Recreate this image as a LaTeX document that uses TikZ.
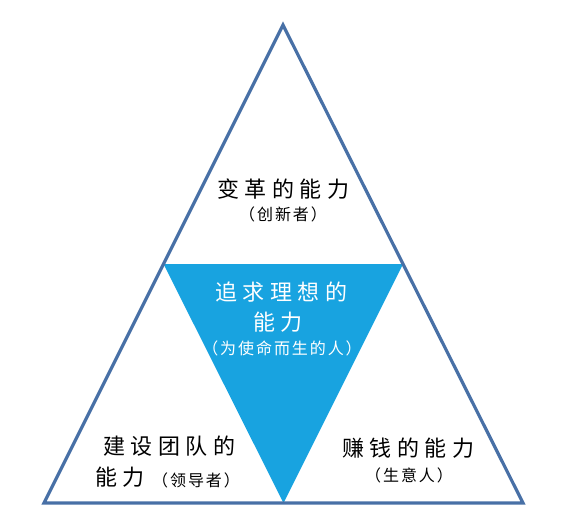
\documentclass[tikz,border=0pt]{standalone}
\usepackage{fontspec}
\newfontfamily\cjk[LetterSpace=12]{Noto Sans CJK SC}
\newfontfamily\cjksp[LetterSpace=25]{Noto Sans CJK SC}
\definecolor{edgeblue}{RGB}{72,112,166}
\definecolor{fillcyan}{RGB}{24,163,224}
\begin{document}
\begin{tikzpicture}[x=1pt,y=-1pt,
  maintext/.style={font=\cjksp\fontsize{22}{25}\selectfont, inner sep=0pt, align=center},
  subtext/.style={font=\cjk\fontsize{16}{18}\selectfont, inner sep=0pt},
  outline/.style={draw=edgeblue, line width=3.2pt, line join=miter}]
\useasboundingbox (0,0) rectangle (563,523);
\coordinate (A) at (283,25);
\coordinate (B) at (44,503);
\coordinate (C) at (523,503);
\coordinate (AB) at (163.5,264);
\coordinate (AC) at (403,264);
\coordinate (BC) at (283.5,503);
\fill[fillcyan] (AB) -- (AC) -- (BC) -- cycle;
\draw[outline] (A) -- (B) -- (C) -- cycle;
\node[maintext] (t1) at (283,189) {变革的能力};
\node[subtext] (s1) at (283,214) {（创新者）};
\node[maintext, text=white] (t2a) at (281,292) {追求理想的};
\node[maintext, text=white] (t2b) at (278,322) {能力};
\node[subtext, text=white] (s2) at (282,348) {（为使命而生的人）};
\node[maintext] (t3a) at (169,446) {建设团队的};
\node[maintext] (t3b) at (120,477) {能力};
\node[subtext] (s3) at (196,480) {（领导者）};
\node[maintext] (t4) at (408,448) {赚钱的能力};
\node[subtext] (s4) at (409,475) {（生意人）};
\end{tikzpicture}
\end{document}
